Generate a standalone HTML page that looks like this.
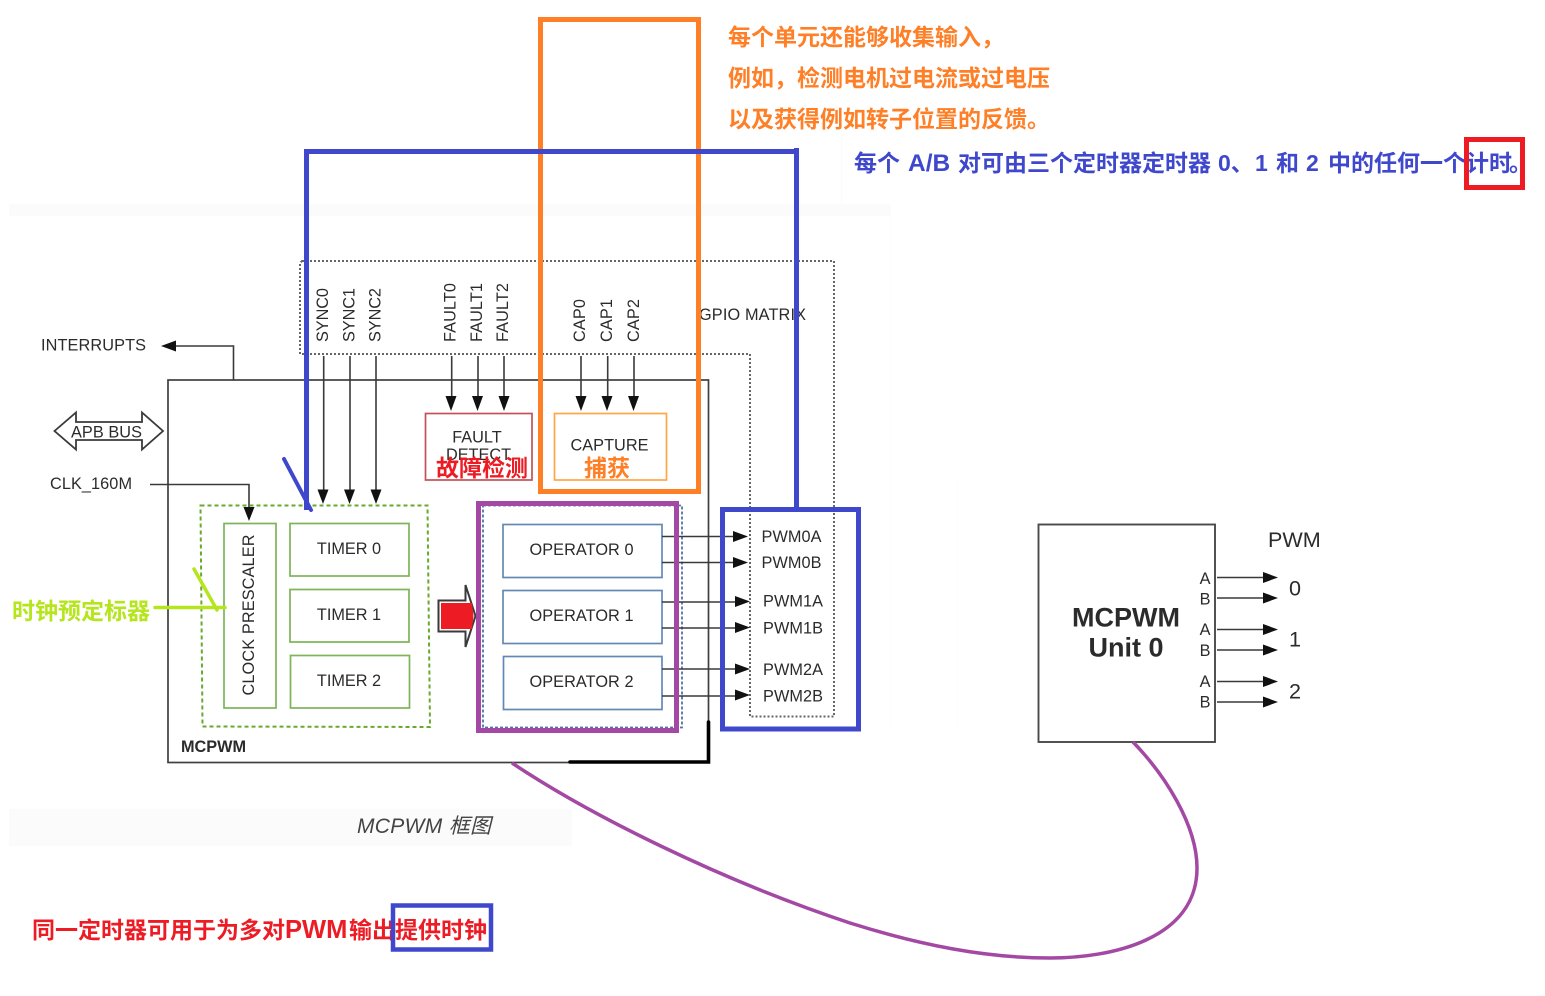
<!DOCTYPE html>
<html lang="zh">
<head>
<meta charset="utf-8">
<title>MCPWM</title>
<style>
html,body{margin:0;padding:0;background:#fff;}
svg{display:block;}
.t{font-family:"Liberation Sans","Noto Sans CJK SC",sans-serif;font-size:16.3px;fill:#2b2b2b;}
.c{text-anchor:middle;}
.b{font-weight:bold;}
.n{font-family:"Liberation Sans","Noto Sans CJK SC",sans-serif;font-weight:bold;font-size:23px;}
.l{stroke:#3a3a3a;stroke-width:1.6;fill:none;}
.h{fill:#111;stroke:none;}
</style>
</head>
<body>
<svg width="1545" height="996" viewBox="0 0 1545 996" xmlns="http://www.w3.org/2000/svg">
<rect width="1545" height="996" fill="#fff"/>
<!-- faint bands -->
<rect x="9" y="204" width="882" height="12" fill="#fbfbfb"/>
<rect x="841" y="130" width="1" height="74" fill="#fbfbfb"/>
<rect x="890" y="216" width="1" height="515" fill="#fcfcfc"/>
<rect x="957" y="480" width="1" height="250" fill="#fcfcfc"/>
<rect x="9" y="809" width="563" height="37" fill="#fbfbfb"/>

<!-- GPIO matrix dotted -->
<path d="M302,261 H834 V716.5 H750 V354 H300 V263 Z" fill="none" stroke="#666" stroke-width="2" stroke-dasharray="2 2"/>
<text class="t" x="699" y="320" textLength="107">GPIO MATRIX</text>

<!-- MCPWM frame -->
<rect x="168" y="380" width="540.5" height="382.5" fill="none" stroke="#3f3f3f" stroke-width="1.7"/>
<text class="t b" x="181" y="752" textLength="65" fill="#222">MCPWM</text>

<!-- Interrupts -->
<text class="t" x="41" y="350.5" textLength="105">INTERRUPTS</text>
<path class="l" d="M233.5,380 V346 H175"/>
<polygon class="h" points="161,346 176,340.5 176,351.5"/>

<!-- APB BUS -->
<polygon points="54.5,431 76,412.5 76,422 142,422 142,412.5 163,431 142,449.5 142,440 76,440 76,449.5" fill="#fff" stroke="#3a3a3a" stroke-width="1.8"/>
<text class="t" x="71" y="437.5" textLength="71">APB BUS</text>

<!-- CLK -->
<text class="t" x="50" y="489" textLength="82">CLK_160M</text>
<path class="l" d="M150,484.5 H249 V508"/>
<polygon class="h" points="249,521 243.5,507 254.5,507"/>

<!-- SYNC labels -->
<g class="t">
<text transform="translate(328,342) rotate(-90)" textLength="54">SYNC0</text>
<text transform="translate(354.5,342) rotate(-90)" textLength="54">SYNC1</text>
<text transform="translate(380.5,342) rotate(-90)" textLength="54">SYNC2</text>
<text transform="translate(455.5,342) rotate(-90)" textLength="59">FAULT0</text>
<text transform="translate(482,342) rotate(-90)" textLength="59">FAULT1</text>
<text transform="translate(508,342) rotate(-90)" textLength="59">FAULT2</text>
<text transform="translate(585,342) rotate(-90)" textLength="43">CAP0</text>
<text transform="translate(612,342) rotate(-90)" textLength="43">CAP1</text>
<text transform="translate(639,342) rotate(-90)" textLength="43">CAP2</text>
</g>

<!-- vertical arrows -->
<g class="l">
<path d="M323.7,356 V490 M350,356 V490 M376,356 V490 M451.7,356 V397 M478,356 V397 M504,356 V397 M581,356 V397 M607.7,356 V397 M634,356 V397"/>
</g>
<g class="h">
<polygon points="323,504 317.5,489.5 328.5,489.5"/>
<polygon points="349.5,504 344,489.5 355,489.5"/>
<polygon points="376,504 370.5,489.5 381.5,489.5"/>
<polygon points="451,411 445.5,396 456.5,396"/>
<polygon points="477.5,411 472,396 483,396"/>
<polygon points="504,411 498.5,396 509.5,396"/>
<polygon points="581,411 575.5,396 586.5,396"/>
<polygon points="607,411 601.5,396 612.5,396"/>
<polygon points="633.5,411 628,396 639,396"/>
</g>

<!-- Fault & capture -->
<rect x="425.5" y="413.5" width="106.5" height="66.5" fill="#fff" stroke="#c4505a" stroke-width="1.7"/>
<text class="t c" x="477" y="442.5">FAULT</text>
<text class="t c" x="478.5" y="460">DETECT</text>
<rect x="554.5" y="413.5" width="112" height="66.5" fill="#fff" stroke="#ffa648" stroke-width="1.7"/>
<text class="t" x="570.5" y="450.5" textLength="78">CAPTURE</text>

<!-- Green dashed timers group -->
<polygon points="200.5,505.5 427.5,505.5 430,727 202.5,726.5" fill="none" stroke="#6aa92e" stroke-width="2" stroke-dasharray="4 3"/>
<g fill="#fff" stroke="#7cb457" stroke-width="1.7">
<rect x="224" y="523.5" width="52" height="184.5"/>
<rect x="290" y="523.5" width="119" height="52.5"/>
<rect x="290" y="589.5" width="119" height="52.5"/>
<rect x="290.5" y="655.5" width="119" height="52.5"/>
</g>
<text class="t" transform="translate(254,695.5) rotate(-90)" textLength="161">CLOCK PRESCALER</text>
<text class="t c" x="349" y="554">TIMER 0</text>
<text class="t c" x="349" y="620">TIMER 1</text>
<text class="t c" x="349" y="686">TIMER 2</text>

<!-- Big arrow -->
<polygon points="438.5,600.5 465.5,600.5 465.5,585 475.5,616 465.5,647 465.5,631.5 438.5,631.5" fill="#fff" stroke="#3a3a3a" stroke-width="2"/>
<polygon points="441,603 472,603 473.5,616 472,629 441,629" fill="#ed1c24"/>

<!-- Operators dotted -->
<rect x="483" y="505.5" width="199" height="222" fill="none" stroke="#4d73a8" stroke-width="1.8" stroke-dasharray="3 2"/>
<g fill="#fff" stroke="#6488b5" stroke-width="1.7">
<rect x="503" y="524.5" width="159" height="53"/>
<rect x="503" y="590.5" width="159" height="53"/>
<rect x="503.5" y="656.5" width="158.5" height="53"/>
</g>
<text class="t" x="529.5" y="555" textLength="104">OPERATOR 0</text>
<text class="t" x="529.5" y="621" textLength="104">OPERATOR 1</text>
<text class="t" x="529.5" y="687" textLength="104">OPERATOR 2</text>

<!-- PWM outputs -->
<path class="l" d="M662,536.5 H735 M662,562.5 H735 M662,602 H737 M662,628 H737 M662,669 H737 M662,696 H737"/>
<g class="h">
<polygon points="748,536.5 733,531 733,542"/>
<polygon points="748,562.5 733,557 733,568"/>
<polygon points="750,601.5 735,596 735,607"/>
<polygon points="750,627.5 735,622 735,633"/>
<polygon points="750,669 735,663.5 735,674.5"/>
<polygon points="750,695 735,689.5 735,700.5"/>
</g>
<text class="t" x="761.5" y="542" textLength="60">PWM0A</text>
<text class="t" x="761.5" y="568" textLength="60">PWM0B</text>
<text class="t" x="763" y="606.5" textLength="60">PWM1A</text>
<text class="t" x="763" y="633.5" textLength="60">PWM1B</text>
<text class="t" x="763" y="675" textLength="60">PWM2A</text>
<text class="t" x="763" y="701.5" textLength="60">PWM2B</text>

<!-- Unit box -->
<rect x="1038.5" y="524.5" width="176.5" height="217.5" fill="#fff" stroke="#4a4a4a" stroke-width="1.9"/>
<text class="t b c" x="1126" y="626.5" style="font-size:27px" fill="#111">MCPWM</text>
<text class="t b c" x="1126" y="656.5" style="font-size:27px" fill="#111">Unit 0</text>
<text class="t c" x="1205" y="584">A</text>
<text class="t c" x="1205" y="604.5">B</text>
<text class="t c" x="1205" y="635">A</text>
<text class="t c" x="1205" y="656">B</text>
<text class="t c" x="1205" y="687">A</text>
<text class="t c" x="1205" y="707.5">B</text>
<path class="l" d="M1217,577.5 H1265 M1217,598 H1265 M1217,629.5 H1265 M1217,650 H1265 M1217,681.5 H1265 M1217,702 H1265"/>
<g class="h">
<polygon points="1278,577.5 1263,572 1263,583"/>
<polygon points="1278,598 1263,592.5 1263,603.5"/>
<polygon points="1278,629.5 1263,624 1263,635"/>
<polygon points="1278,650 1263,644.5 1263,655.5"/>
<polygon points="1278,681.5 1263,676 1263,687"/>
<polygon points="1278,702 1263,696.5 1263,707.5"/>
</g>
<text class="t" x="1268" y="547" style="font-size:21.6px">PWM</text>
<text class="t c" x="1295" y="595.5" style="font-size:21.6px">0</text>
<text class="t c" x="1295" y="646.5" style="font-size:21.6px">1</text>
<text class="t c" x="1295" y="698.5" style="font-size:21.6px">2</text>

<!-- annotations: overlay labels -->
<text class="n" x="436" y="476" fill="#ed1c24">故障检测</text>
<text class="n" x="584" y="476" fill="#ff7f27">捕获</text>

<!-- Orange box -->
<rect x="540.5" y="19.5" width="158" height="472" fill="none" stroke="#ff7f27" stroke-width="5"/>
<!-- Blue lines -->
<path d="M306.5,510 V151.5 H794" fill="none" stroke="#3f48cc" stroke-width="5"/>
<path d="M796.5,148 V509" fill="none" stroke="#3f48cc" stroke-width="5"/>
<path d="M284,459 L311,510" fill="none" stroke="#3f48cc" stroke-width="4" stroke-linecap="round"/>
<rect x="722.5" y="509.5" width="136" height="219.5" fill="none" stroke="#3f48cc" stroke-width="5"/>
<!-- Purple box -->
<rect x="478.5" y="503.5" width="198" height="227" fill="none" stroke="#a349a4" stroke-width="5"/>
<!-- Green annotations -->
<path d="M155,607.5 H225 M194,569 L217,610" fill="none" stroke="#b5e61d" stroke-width="3.5" stroke-linecap="round"/>
<text class="n" x="12" y="619" fill="#b5e61d" textLength="138">时钟预定标器</text>
<!-- Black corner -->
<path d="M570,762 H708.5 V722" fill="none" stroke="#000" stroke-width="3.6" stroke-linecap="round"/>
<!-- Purple curve -->
<path d="M512,763 C590,815 720,880 850,923 C920,945 985,958 1050,958 C1110,958 1197,940 1197,868 C1197,825 1165,775 1133,742" fill="none" stroke="#a349a4" stroke-width="3.5"/>

<!-- Top text -->
<text class="n" x="728" y="45" fill="#ff7f27">每个单元还能够收集输入，</text>
<text class="n" x="728" y="86" fill="#ff7f27">例如，检测电机过电流或过电压</text>
<text class="n" x="728" y="127" fill="#ff7f27">以及获得例如转子位置的反馈。</text>
<text class="n" y="171" fill="#3f48cc"><tspan x="854">每个</tspan> <tspan x="908" style="font-size:24.5px">A/B</tspan> <tspan x="958">对可由三个定时器定时器</tspan> <tspan x="1218">0、</tspan><tspan x="1255">1</tspan> <tspan x="1276">和</tspan> <tspan x="1306">2</tspan> <tspan x="1328">中的任何一个计时</tspan><tspan x="1509">。</tspan></text>
<rect x="1466.5" y="139.5" width="56" height="48" fill="none" stroke="#ed1c24" stroke-width="5"/>

<!-- Caption -->
<text x="357" y="833" style="font-family:'Liberation Sans','Noto Sans CJK SC',sans-serif;font-style:italic;font-size:21px" fill="#444" textLength="134">MCPWM 框图</text>

<!-- Bottom text -->
<text class="n" y="938" fill="#ed1c24"><tspan x="32">同一定时器可用于为多对</tspan><tspan x="285" style="font-size:25.5px">PWM</tspan><tspan x="349">输出提供时钟</tspan></text>
<rect x="393" y="905.5" width="98" height="44" fill="none" stroke="#3f48cc" stroke-width="4.5"/>
</svg>
</body>
</html>
